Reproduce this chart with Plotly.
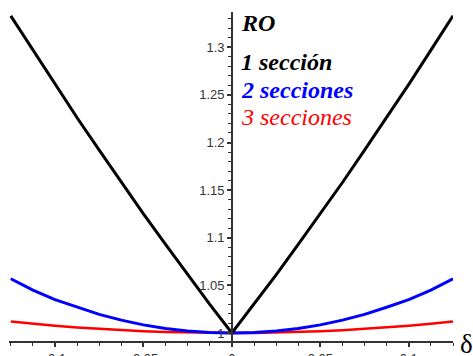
import plotly.graph_objects as go

delta = [-0.125, -0.1125, -0.1, -0.0875, -0.075, -0.0625, -0.05, -0.0375, -0.025, -0.0125,
         0.0, 0.0125, 0.025, 0.0375, 0.05, 0.0625, 0.075, 0.0875, 0.1, 0.1125, 0.125]
ro_1 = [1.333, 1.297, 1.261, 1.226, 1.192, 1.158, 1.125, 1.093, 1.061, 1.030,
        1.000, 1.030, 1.061, 1.093, 1.125, 1.158, 1.192, 1.226, 1.261, 1.297, 1.333]
ro_2 = [1.057, 1.045, 1.035, 1.027, 1.0195, 1.0135, 1.0085, 1.0048, 1.002, 1.0005,
        1.000, 1.0005, 1.002, 1.0048, 1.0085, 1.0135, 1.0195, 1.027, 1.035, 1.045, 1.057]
ro_3 = [1.012, 1.0096, 1.0076, 1.0058, 1.0043, 1.003, 1.0019, 1.0011, 1.0005, 1.0001,
        1.000, 1.0001, 1.0005, 1.0011, 1.0019, 1.003, 1.0043, 1.0058, 1.0076, 1.0096, 1.012]

x_tickvals = [-0.1, -0.05, 0, 0.05, 0.1]
x_ticktext = ["-0.1", "-0.05", "0", "0.05", "0.1"]
y_tickvals = [1, 1.05, 1.1, 1.15, 1.2, 1.25, 1.3]
y_ticktext = ["1", "1.05", "1.1", "1.15", "1.2", "1.25", "1.3"]

XR = [-0.126, 0.125]
YR = [0.9916, 1.337]
L, R, T, B = 9, 20, 12, 15
W, H = 473, 356
PW, PH = W - L - R, H - T - B

fig = go.Figure()
fig.add_trace(go.Scatter(x=delta, y=ro_3, mode="lines", line=dict(color="#ff0000", width=2.5), cliponaxis=False))
fig.add_trace(go.Scatter(x=delta, y=ro_2, mode="lines", line=dict(color="#0000ff", width=3), cliponaxis=False))
fig.add_trace(go.Scatter(x=delta, y=ro_1, mode="lines", line=dict(color="#000000", width=3), cliponaxis=False))

tickfont = dict(family="Liberation Sans, Arial", size=13, color="#333333")

fig.update_layout(
    width=W, height=H,
    margin=dict(l=L, r=R, t=T, b=B, autoexpand=False),
    paper_bgcolor="white", plot_bgcolor="white",
    showlegend=False,
    xaxis=dict(range=XR, showgrid=False, zeroline=False, showline=True, linecolor="#333333", linewidth=1.5,
               automargin=False,
               ticks="outside", ticklen=4, tickcolor="#333333", tickwidth=1.5,
               tickvals=x_tickvals, ticktext=x_ticktext, tickfont=tickfont, ticklabelstandoff=1,
               minor=dict(dtick=0.0125, tick0=0, ticks="outside", ticklen=3, tickcolor="#333333", tickwidth=1.2)),
    yaxis=dict(range=YR, showgrid=False, zeroline=False, showline=True, linecolor="#333333", linewidth=1.5,
               automargin=False,
               anchor="free", position=(0 - XR[0]) / (XR[1] - XR[0]),
               ticks="outside", ticklen=4, tickcolor="#333333", tickwidth=1.5,
               tickvals=y_tickvals, ticktext=y_ticktext, tickfont=tickfont,
               minor=dict(dtick=0.01, tick0=1, ticks="outside", ticklen=3, tickcolor="#333333", tickwidth=1.2)),
)

serif = "Liberation Serif, Times New Roman"
def label(text, px, py, color, size, bold=True, italic=True):
    xp = (px - L) / PW
    yp = (H - B - py) / PH
    t = f"<i>{text}</i>" if italic else text
    if bold:
        t = f"<b>{t}</b>"
    fig.add_annotation(x=xp, y=yp, xref="paper", yref="paper", text=t, showarrow=False,
                       xanchor="left", yanchor="middle",
                       font=dict(family=serif, size=size, color=color))

label("RO", 239, 23, "black", 24)
label("1 sección", 239, 62, "black", 24)
label("2 secciones", 239, 90, "#0000ff", 24)
label("3 secciones", 239, 117, "#ff0000", 24, bold=False)
label("δ", 458, 344, "black", 27, bold=False, italic=False)

fig.write_html("out.html", config={"displayModeBar": False},
               post_script="document.body.style.margin='0';document.body.style.overflow='hidden';")
